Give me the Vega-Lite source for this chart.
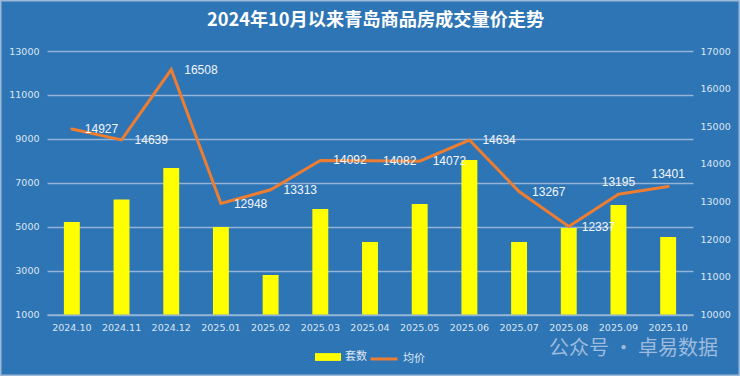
{
"$schema":"https://vega.github.io/schema/vega-lite/v6.json",
"width":740,"height":376,"padding":0,"autosize":{"type":"none"},
"background":"#2E75B6",
"config":{"font":"Noto Sans CJK SC","view":{"stroke":"#9DB9D8","strokeWidth":3}},
"title":{"text":"2024年10月以来青岛商品房成交量价走势","color":"#FFFFFF","fontSize":18.2,"fontWeight":"bold","font":"Noto Sans CJK SC","anchor":"start","frame":"group","dx":207,"dy":0,"offset":-30},
"data":{"values":[
{"month":"2024.10","count":5212,"price":14927},
{"month":"2024.11","count":6237,"price":14639},
{"month":"2024.12","count":7672,"price":16508},
{"month":"2025.01","count":4985,"price":12948},
{"month":"2025.02","count":2800,"price":13313},
{"month":"2025.03","count":5805,"price":14092},
{"month":"2025.04","count":4302,"price":14082},
{"month":"2025.05","count":6032,"price":14072},
{"month":"2025.06","count":8036,"price":14634},
{"month":"2025.07","count":4302,"price":13267},
{"month":"2025.08","count":4939,"price":12337},
{"month":"2025.09","count":5987,"price":13195},
{"month":"2025.10","count":4529,"price":13401}
]},
"encoding":{"x":{"field":"month","type":"nominal","sort":null,"scale":{"type":"band","range":[47,693],"paddingInner":0.68,"paddingOuter":0.34},
"axis":{"orient":"bottom","offset":-61.5,"labelAngle":0,"labelFontSize":9.5,"labelColor":"#DCE6F2","labelPadding":8,"labelFont":"DejaVu Sans","ticks":false,"domainColor":"#93B4D6","domainWidth":1.5,"title":"公众号 · 卓易数据","titleColor":"#9DBBDC","titleFontSize":20,"titleFontWeight":"normal","titleX":633,"titleY":24,"titleAlign":"center"}}},
"layer":[
{"mark":{"type":"bar"},
"encoding":{
"y":{"field":"count","type":"quantitative","scale":{"domain":[1000,13000],"range":[314.5,51],"zero":false,"nice":false},
"axis":{"orient":"left","offset":-47,"values":[1000,3000,5000,7000,9000,11000,13000],"format":"d","title":null,"grid":true,"gridColor":"#93B4D6","gridWidth":1.3,"domain":false,"ticks":false,"labelColor":"#DCE6F2","labelFontSize":9.5,"labelFont":"DejaVu Sans","labelPadding":8}},
"y2":{"datum":1000},
"fill":{"datum":"套数","scale":{"domain":["套数"],"range":["#FFFF00"]},
"legend":{"orient":"none","legendX":315,"legendY":344,"title":null,"symbolType":"M-1,-0.3H1V0.3H-1Z","symbolSize":676,"symbolStrokeWidth":0,"labelColor":"#DCE6F2","labelFontSize":11,"labelOffset":4}}
}},
{"layer":[
{"mark":{"type":"line","strokeWidth":3,"strokeCap":"round","strokeJoin":"miter"},
"encoding":{
"y":{"field":"price","type":"quantitative","scale":{"domain":[10000,17000],"range":[314.5,51],"zero":false,"nice":false},
"axis":{"orient":"right","offset":-47,"values":[10000,11000,12000,13000,14000,15000,16000,17000],"format":"d","title":null,"grid":false,"domain":false,"ticks":false,"labelColor":"#DCE6F2","labelFontSize":9.5,"labelFont":"DejaVu Sans","labelPadding":7}},
"stroke":{"datum":"均价","scale":{"domain":["均价"],"range":["#ED7D31"]},
"legend":{"orient":"none","legendX":369,"legendY":344,"title":null,"symbolType":"M-1,0H1","symbolSize":729,"symbolStrokeWidth":3,"labelColor":"#DCE6F2","labelFontSize":11,"labelOffset":4}}
}},
{"transform":[{"filter":"datum.month!='2025.09' && datum.month!='2025.10'"}],
"mark":{"type":"text","align":"left","baseline":"middle","dx":13,"fontSize":12,"color":"#F2F6FB","font":"Liberation Sans"},
"encoding":{"y":{"field":"price","type":"quantitative"},"text":{"field":"price","type":"quantitative","format":"d"}}},
{"transform":[{"filter":"datum.month=='2025.09' || datum.month=='2025.10'"}],
"mark":{"type":"text","align":"center","baseline":"middle","dy":-12,"fontSize":12,"color":"#F2F6FB","font":"Liberation Sans"},
"encoding":{"y":{"field":"price","type":"quantitative"},"text":{"field":"price","type":"quantitative","format":"d"}}}
]}
],
"resolve":{"scale":{"y":"independent"},"legend":{"fill":"independent","stroke":"independent"}}
}
